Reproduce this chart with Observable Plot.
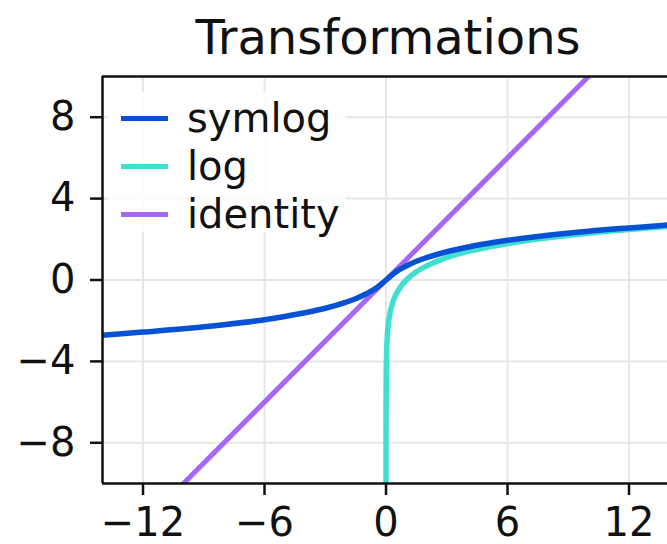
<!DOCTYPE html>
<html>
<head>
<meta charset="utf-8">
<script src="https://cdn.jsdelivr.net/npm/d3@7"></script>
<script src="https://cdn.jsdelivr.net/npm/@observablehq/plot@0.6"></script>
<style>
  html, body { margin: 0; padding: 0; background: white; }
  #wrap { position: relative; width: 667px; height: 544px; overflow: hidden; font-family: "DejaVu Sans", sans-serif; }
  #legend { position: absolute; left: 108px; top: 92px; width: 238px; height: 140px; background: rgba(255,255,255,0.85); border-radius: 4px; }
  .row { position: absolute; left: 0; height: 48px; display: flex; align-items: center; }
  .sw { width: 47px; height: 5px; margin-left: 13px; margin-right: 19px; }
  .lab { font-size: 40px; line-height: 48px; color: #111; }
</style>
</head>
<body>
<div id="wrap"></div>
<script>
const title = "Transformations";
const seriesNames = ["symlog", "log", "identity"];
const seriesColors = ["#0651d4", "#3fe0cf", "#a667f7"];

const xTicks = [-12, -6, 0, 6, 12];
const yTicks = [-8, -4, 0, 4, 8];

// symlog curve
const symlogX = [-14, -12, -10, -8, -6, -5, -4, -3, -2, -1.5, -1, -0.5, 0, 0.5, 1, 1.5, 2, 3, 4, 5, 6, 8, 10, 12, 14];
const symlogY = [-2.71, -2.56, -2.40, -2.20, -1.95, -1.79, -1.61, -1.39, -1.10, -0.92, -0.69, -0.41, 0, 0.41, 0.69, 0.92, 1.10, 1.39, 1.61, 1.79, 1.95, 2.20, 2.40, 2.56, 2.71];

// log curve
const logX = [0.00005, 0.0003, 0.002, 0.01, 0.03, 0.06, 0.1, 0.2, 0.3, 0.5, 0.75, 1, 1.5, 2, 3, 4, 6, 8, 10, 12, 14];
const logY = [-9.9, -8.1, -6.2, -4.6, -3.5, -2.8, -2.3, -1.6, -1.2, -0.69, -0.29, 0, 0.41, 0.69, 1.10, 1.39, 1.79, 2.08, 2.30, 2.48, 2.64];

// identity line
const identityX = [-14, 14];
const identityY = [-14, 14];

const toRows = (xs, ys, name) => xs.map((x, i) => ({x, y: ys[i], series: name}));
const symlogData = toRows(symlogX, symlogY, "symlog");
const logData = toRows(logX, logY, "log");
const identityData = toRows(identityX, identityY, "identity");

const color = Object.fromEntries(seriesNames.map((n, i) => [n, seriesColors[i]]));

const chart = Plot.plot({
  width: 667,
  height: 544,
  marginLeft: 102,
  marginTop: 76,
  marginBottom: 61,
  marginRight: 0,
  style: {fontFamily: "DejaVu Sans, sans-serif", fontSize: "40px", color: "#111", background: "white"},
  x: {domain: [-14, 13.9], ticks: xTicks, label: null, grid: false},
  y: {domain: [-10, 10], ticks: yTicks, label: null, grid: false},
  marks: [
    Plot.gridX(xTicks, {stroke: "#e6e6e6", strokeOpacity: 1, strokeWidth: 2}),
    Plot.gridY(yTicks, {stroke: "#e6e6e6", strokeOpacity: 1, strokeWidth: 2}),
    Plot.line(identityData, {x: "x", y: "y", stroke: color.identity, strokeWidth: 5, clip: true}),
    Plot.line(logData, {x: "x", y: "y", stroke: color.log, strokeWidth: 5.5, curve: "monotone-x", clip: true}),
    Plot.line(symlogData, {x: "x", y: "y", stroke: color.symlog, strokeWidth: 5.5, curve: "monotone-x", clip: true}),
    Plot.ruleX([-14], {stroke: "#111", strokeWidth: 2.5}),
    Plot.ruleY([-10, 10], {stroke: "#111", strokeWidth: 2.5}),
    Plot.axisX(xTicks, {tickSize: 12, tickPadding: 12, strokeWidth: 2.5, stroke: "#111", fontSize: 40, label: null}),
    Plot.axisY(yTicks, {tickSize: 12, tickPadding: 15, strokeWidth: 2.5, stroke: "#111", fontSize: 40, label: null}),
    Plot.text([title], {frameAnchor: "top", lineAnchor: "bottom", dy: -23, dx: 3, fontSize: 48, fill: "#111"})
  ]
});

const wrap = document.getElementById("wrap");
wrap.appendChild(chart);

const legend = document.createElement("div");
legend.id = "legend";
seriesNames.forEach((name, i) => {
  const row = document.createElement("div");
  row.className = "row";
  row.style.top = (2 + i * 48) + "px";
  const sw = document.createElement("div");
  sw.className = "sw";
  sw.style.background = seriesColors[i];
  const lab = document.createElement("span");
  lab.className = "lab";
  lab.textContent = name;
  row.appendChild(sw);
  row.appendChild(lab);
  legend.appendChild(row);
});
wrap.appendChild(legend);
</script>
</body>
</html>
